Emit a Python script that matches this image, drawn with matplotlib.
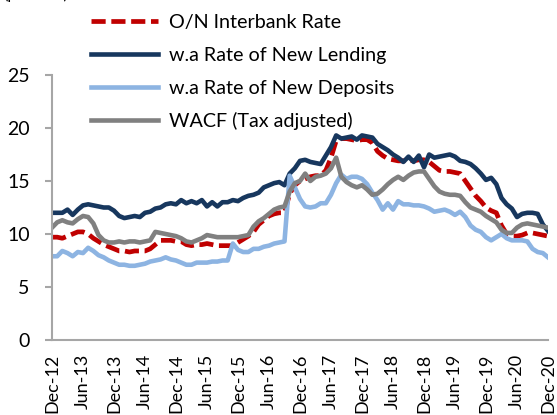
import numpy as np
import matplotlib
matplotlib.use('Agg')
import matplotlib.pyplot as plt

plt.rcParams['font.family'] = ['Lato', 'DejaVu Sans']

# monthly values, Dec-12 .. Dec-20 (97 points), percent
interbank = [9.7, 9.7, 9.6, 9.8, 10.0, 10.2, 10.2, 10.0, 9.6, 9.3, 9.0, 8.8,
             8.6, 8.4, 8.4, 8.3, 8.4, 8.4, 8.4, 8.6, 9.0, 9.4, 9.4, 9.4,
             9.3, 9.3, 9.0, 8.9, 9.0, 9.0, 9.1, 9.0, 8.9, 8.9, 8.9, 8.9,
             9.2, 9.5, 9.8, 10.2, 10.9, 11.3, 11.7, 11.9, 12.0, 12.0, 13.8, 14.6,
             15.0, 15.2, 15.4, 15.5, 15.5, 16.0, 17.2, 18.8, 19.0, 19.0, 18.9, 18.8,
             18.9, 18.9, 18.6, 17.8, 17.4, 17.1, 17.0, 16.9, 16.9, 17.0, 16.9, 17.0,
             17.0, 16.8, 16.4, 16.0, 15.9, 15.9, 15.8, 15.7, 15.0, 14.3, 13.6, 13.1,
             12.5, 12.2, 12.0, 10.8, 10.0, 9.8, 9.8, 9.9, 10.1, 10.1, 10.0, 9.9,
             9.8]
lending = [12.0, 12.0, 12.0, 12.3, 11.8, 12.3, 12.7, 12.8, 12.7, 12.6, 12.5, 12.5,
           12.2, 11.7, 11.5, 11.6, 11.7, 11.6, 12.0, 12.1, 12.4, 12.5, 12.8, 12.9,
           12.8, 13.2, 12.9, 13.1, 12.9, 13.2, 12.6, 13.0, 12.6, 13.0, 13.0, 13.2,
           13.1, 13.4, 13.6, 13.7, 13.9, 14.4, 14.6, 14.8, 14.9, 14.6, 15.7, 16.2,
           16.9, 17.0, 16.8, 16.7, 16.6, 17.4, 18.2, 19.3, 19.0, 19.1, 19.2, 18.9,
           19.3, 19.2, 19.1, 18.5, 18.2, 17.9, 17.5, 17.2, 16.8, 17.3, 16.8, 17.4,
           16.3, 17.5, 17.2, 17.3, 17.4, 17.5, 17.3, 16.9, 16.8, 16.6, 16.2, 15.7,
           15.1, 15.3, 14.7, 13.4, 12.8, 12.4, 11.6, 11.9, 12.0, 12.0, 11.9, 10.9,
           10.3]
deposits = [7.9, 7.9, 8.4, 8.2, 7.9, 8.3, 8.2, 8.7, 8.4, 8.0, 7.8, 7.5,
            7.3, 7.1, 7.1, 7.0, 7.0, 7.1, 7.2, 7.4, 7.5, 7.6, 7.8, 7.6,
            7.5, 7.3, 7.1, 7.1, 7.3, 7.3, 7.3, 7.4, 7.4, 7.5, 7.5, 9.1,
            8.5, 8.3, 8.3, 8.6, 8.6, 8.8, 8.9, 9.1, 9.2, 9.3, 15.5, 14.4,
            13.3, 12.6, 12.5, 12.6, 12.9, 12.9, 13.7, 14.8, 15.6, 15.2, 15.4, 15.4,
            15.2, 14.7, 13.9, 13.2, 12.3, 12.9, 12.3, 13.1, 12.8, 12.8, 12.7, 12.7,
            12.6, 12.4, 12.1, 12.2, 12.3, 12.1, 11.8, 12.1, 11.6, 10.8, 10.4, 10.2,
            9.7, 9.4, 9.7, 10.0, 9.6, 9.4, 9.4, 9.4, 9.3, 8.6, 8.3, 8.2,
            7.8]
wacf = [10.6, 11.1, 11.3, 11.1, 11.0, 11.4, 11.7, 11.6, 11.0, 9.9, 9.4, 9.2,
        9.2, 9.3, 9.2, 9.3, 9.3, 9.2, 9.3, 9.4, 10.2, 10.1, 10.0, 9.9,
        9.8, 9.6, 9.3, 9.2, 9.4, 9.6, 9.9, 9.8, 9.7, 9.7, 9.7, 9.7,
        9.7, 9.8, 9.9, 10.7, 11.2, 11.5, 11.9, 12.3, 12.5, 12.6, 14.0, 14.8,
        15.0, 15.7, 15.0, 15.4, 15.5, 15.7, 16.2, 17.2, 15.4, 14.9, 14.6, 14.4,
        14.6, 14.2, 13.7, 13.8, 14.2, 14.7, 15.1, 15.4, 15.1, 15.5, 15.8, 15.9,
        15.9, 15.2, 14.5, 14.0, 13.8, 13.7, 13.7, 13.6, 13.0, 12.5, 12.3, 12.1,
        11.7, 11.4, 11.1, 10.4, 10.1, 10.1, 10.6, 10.9, 11.0, 10.9, 10.8, 10.7,
        10.6]
tick_labels = ['Dec-12', 'Jun-13', 'Dec-13', 'Jun-14', 'Dec-14', 'Jun-15',
               'Dec-15', 'Jun-16', 'Dec-16', 'Jun-17', 'Dec-17', 'Jun-18',
               'Dec-18', 'Jun-19', 'Dec-19', 'Jun-20', 'Dec-20']
series_names = ['O/N Interbank Rate', 'w.a Rate of New Lending',
                'w.a Rate of New Deposits', 'WACF (Tax adjusted)']

months = np.arange(len(interbank))

fig = plt.figure(figsize=(5.57, 4.15), dpi=100)
ax = fig.add_axes([52 / 557, 1 - 340 / 415, 496 / 557, 265 / 415])

ax.plot(months, interbank, color='#C00000', lw=3.4, dashes=(3.0, 1.2), label=series_names[0])
ax.plot(months, lending, color='#17375E', lw=3.3, label=series_names[1])
ax.plot(months, deposits, color='#8DB4E2', lw=3.3, label=series_names[2])
ax.plot(months, wacf, color='#808080', lw=3.3, label=series_names[3])

ax.set_xlim(0, len(interbank) - 1)
ax.set_ylim(0, 25)
ax.set_yticks(range(0, 26, 5))
ax.set_xticks(months[::6])
ax.set_xticklabels(tick_labels, rotation=90)

for side in ['top', 'right']:
    ax.spines[side].set_visible(False)
for side in ['left', 'bottom']:
    ax.spines[side].set_color('#A6A6A6')
    ax.spines[side].set_linewidth(1.5)
ax.tick_params(axis='y', length=5, width=1.5, color='#A6A6A6', labelsize=14, pad=11)
ax.tick_params(axis='x', length=0, labelsize=13, pad=10)

fig.legend(loc='upper left', bbox_to_anchor=(91 / 557, 1 - 14 / 415), frameon=False,
           fontsize=14.2, handlelength=3.4, handletextpad=0.55, labelspacing=0.8,
           borderpad=0, borderaxespad=0)

fig.text(3 / 557, 1 + 1 / 415, '(percent)', fontsize=12, va='baseline')

fig.savefig('out.png', dpi=100)
